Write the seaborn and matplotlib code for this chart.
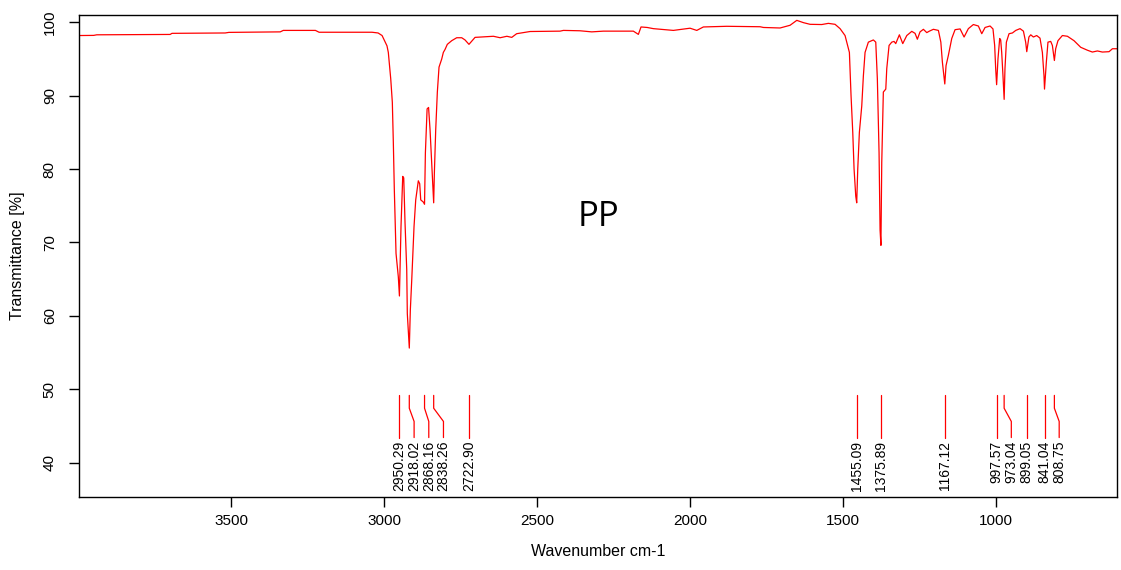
import matplotlib
matplotlib.use("Agg")
import matplotlib.pyplot as plt
import seaborn as sns
import pandas as pd

# FTIR spectrum of PP (wavenumber cm-1, transmittance %)
wavenumber = [4000, 3950, 3940, 3700, 3694, 3520, 3508, 3340, 3330, 3225, 3213, 3040,
              3020, 3007, 2991, 2986.6, 2978.7, 2973.5, 2970.2, 2967, 2961.4, 2953.9,
              2950.3, 2945.1, 2939.5, 2936.2, 2932, 2926.4, 2924.5, 2918.0, 2914.6,
              2910, 2902.5, 2897, 2888.5, 2884, 2880.6, 2872.1, 2868.2, 2865.4, 2859.8,
              2855, 2850.2, 2844.7, 2838.3, 2836, 2831.6, 2826.3, 2820.8, 2812, 2806.7,
              2801.2, 2793.7, 2779.3, 2763, 2746.6, 2735.8, 2722.9, 2703, 2643, 2621,
              2599, 2583, 2567, 2523, 2425, 2414, 2360, 2321.5, 2283.5, 2185.4, 2169,
              2160.3, 2140, 2120, 2054.6, 2000, 1978, 1956.5, 1880, 1771, 1760, 1705.7,
              1673, 1651, 1629.5, 1607.6, 1569.4, 1547.8, 1525.9, 1509.5, 1493.2, 1479,
              1473.6, 1468, 1463.7, 1458.2, 1455.1, 1451.7, 1446.4, 1438.6, 1433.3,
              1427.8, 1417, 1400.6, 1392.8, 1387.6, 1382, 1378.7, 1375.9, 1373.2, 1368,
              1360, 1356.8, 1349.3, 1340.5, 1333, 1327.5, 1315.6, 1304.5, 1291.4, 1275,
              1264.3, 1256.8, 1248, 1237, 1226, 1217.5, 1204.4, 1188, 1180, 1175, 1167.1,
              1163, 1155.4, 1144.3, 1133.5, 1117, 1104, 1090, 1073.6, 1057.3, 1046.2,
              1035.4, 1019, 1009.5, 1004, 1000.7, 997.6, 993.2, 987.6, 984.3, 981, 976.8,
              973.0, 970.3, 965.7, 957, 946, 935, 921, 910, 902.6, 899.05, 892, 886,
              877.4, 866.6, 855.8, 848, 842.7, 841.04, 835, 829.7, 820.8, 815.3, 808.75,
              804.5, 797, 782.6, 766, 744.6, 722.7, 700.8, 684.5, 668, 651.8, 630, 619, 600]
transmittance = [98.2, 98.22, 98.3, 98.35, 98.5, 98.55, 98.63, 98.7, 98.9, 98.9, 98.65, 98.65,
                 98.55, 98.2, 96.8, 95.9, 92.3, 89.1, 83.6, 77.2, 68.5, 65.3,
                 62.7, 72.2, 79.0, 78.8, 72.7, 66.3, 60.3, 55.6, 60.8,
                 64.9, 72.2, 75.8, 78.4, 78.0, 75.8, 75.5, 75.2, 82.2, 88.2,
                 88.4, 85.4, 80.9, 75.4, 79.5, 85.4, 90.5, 93.9, 95.0, 95.9,
                 96.3, 97.0, 97.5, 97.9, 97.9, 97.6, 97.0, 97.95, 98.1, 97.9,
                 98.1, 97.95, 98.45, 98.75, 98.8, 98.9, 98.85, 98.7, 98.8, 98.8, 98.36,
                 99.37, 99.3, 99.14, 98.9, 99.2, 98.9, 99.37, 99.46, 99.4, 99.3, 99.23,
                 99.6, 100.27, 99.96, 99.73, 99.7, 99.86, 99.73, 99.14, 98.2, 95.9,
                 90.0, 85.0, 80.0, 76.3, 75.4, 80.0, 85.0, 88.6, 92.7,
                 95.9, 97.3, 97.6, 97.3, 92.3, 82.2, 71.7, 69.6, 80.9, 90.5,
                 90.9, 93.7, 96.85, 97.3, 97.4, 97.1, 98.3, 97.1, 98.2, 98.77,
                 98.5, 97.7, 98.7, 99.05, 98.6, 98.8, 99.05, 98.9, 97.3, 94.6, 91.6,
                 94.1, 95.5, 97.8, 99.0, 99.1, 98.0, 99.14, 99.7, 99.5, 98.45,
                 99.3, 99.5, 99.1, 96.85, 93.7, 91.5, 95.0, 97.8, 97.6, 95.9, 92.7,
                 89.5, 93.7, 97.3, 98.45, 98.55, 98.9, 99.14, 98.8, 97.3, 96.0, 98.0, 98.3,
                 98.0, 98.2, 97.85, 95.9, 92.7, 90.9, 94.6, 97.3, 97.4, 96.85, 94.8,
                 96.4, 97.5, 98.2, 98.1, 97.5, 96.6, 96.2, 95.95, 96.1, 95.95, 96.0, 96.4, 96.4]

# picked peaks
peaks = [2950.29, 2918.02, 2868.16, 2838.26, 2722.90,
         1455.09, 1375.89, 1167.12, 997.57, 973.04, 899.05, 841.04, 808.75]

spec = pd.DataFrame({"wavenumber": wavenumber, "transmittance": transmittance})

sns.set_theme(style="ticks")
plt.rcParams["font.family"] = ["Liberation Sans", "DejaVu Sans"]
plt.rcParams["text.color"] = "black"
plt.rcParams["axes.labelcolor"] = "black"
plt.rcParams["xtick.color"] = "black"
plt.rcParams["ytick.color"] = "black"

fig = plt.figure(figsize=(11.21, 5.70), dpi=100)
ax = fig.add_axes([79 / 1121, 73 / 570, 1038 / 1121, 482 / 570])

sns.lineplot(data=spec, x="wavenumber", y="transmittance", color="#ff0000",
             linewidth=0.9, estimator=None, sort=False, ax=ax)

# peak markers, labels pushed apart where they would overlap
min_gap = 48
label_pos = []
for i, p in enumerate(peaks):
    pos = p
    if i > 0 and label_pos[-1] - pos < min_gap:
        pos = label_pos[-1] - min_gap
    label_pos.append(pos)

for p, lp in zip(peaks, label_pos):
    ax.plot([p, p, lp, lp], [49.15, 47.4, 45.6, 43.4], color="#ff0000", linewidth=0.9)
    ax.text(lp, 43.0, f"{p:.2f}", rotation=90, ha="center", va="top", fontsize=10,
            color="black")

ax.text(2300, 73.4, "PP", ha="center", va="center", fontsize=25, color="black",
        family=["Open Sans", "DejaVu Sans"])

ax.set_xlim(3998, 604)
ax.set_ylim(35.3, 101.0)
ax.set_xticks([3500, 3000, 2500, 2000, 1500, 1000])
ax.set_yticks([40, 50, 60, 70, 80, 90, 100])
ax.set_xlabel("Wavenumber cm-1", fontsize=11.5)
ax.set_ylabel("Transmittance [%]", fontsize=11.5)
ax.xaxis.set_label_coords(0.5, -0.098)
ax.yaxis.set_label_coords(-0.052, 0.5)

ax.tick_params(axis="both", length=7, width=1, labelsize=11, pad=5)
ax.tick_params(axis="y", labelrotation=90, pad=9)
for lab in ax.get_yticklabels():
    lab.set_va("center")
for side in ["top", "right", "left", "bottom"]:
    ax.spines[side].set_visible(True)
    ax.spines[side].set_color("black")
    ax.spines[side].set_linewidth(1)

fig.savefig("out.png", dpi=100, facecolor="white")
